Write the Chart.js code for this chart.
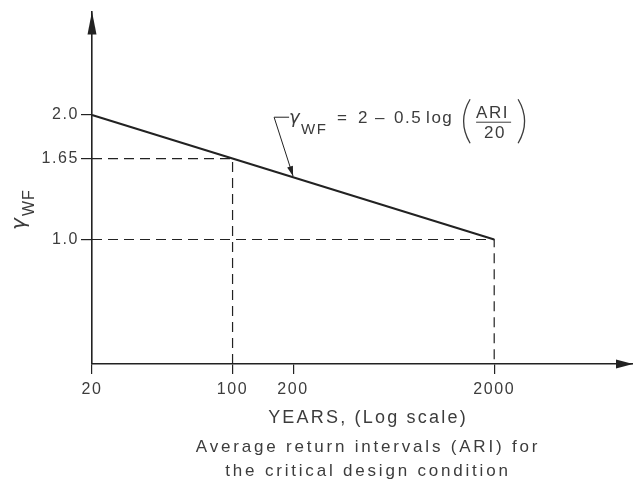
<!DOCTYPE html>
<html>
<head>
<meta charset="utf-8">
<script src="https://cdn.jsdelivr.net/npm/chart.js@4"></script>
<style>
  body { margin: 0; background: #fff; }
  #wrap { width: 633px; height: 479px; }
</style>
</head>
<body>
<div id="wrap"><canvas id="chart"></canvas></div>
<script>
// ---- data ----
const ariEnds = [20, 2000];          // years
const gammaEnds = [2.0, 1.0];        // gamma_WF = 2 - 0.5 log(ARI/20)
const guide165X = [20, 100, 100];
const guide165Y = [1.65, 1.65, 0];
const guide10X = [20, 2000, 2000];
const guide10Y = [1.0, 1.0, 0];
const xTicks = [20, 100, 200, 2000];
const yTicks = [1.0, 1.65, 2.0];
const yTickLabels = ['1.0', '1.65', '2.0'];
const calloutAt = [200, 1.5];        // where the formula arrow points
const xMin = 20, xMax = 9800;
const yMin = 0, yMax = 2.83;

const FONT = "'Liberation Sans', Arial, sans-serif";
const GREEK = "'DejaVu Sans', sans-serif";
const INK = '#222';
const TEXT = '#3c3c3c';

function toPoints(xs, ys) {
  return xs.map((x, i) => ({ x: x, y: ys[i] }));
}

// arrows, callout, formula and captions
const decor = {
  id: 'decor',
  beforeDraw(chart) {
    chart.ctx.letterSpacing = '1.6px';
  },
  afterDraw(chart) {
    const ctx = chart.ctx;
    const a = chart.chartArea;
    const xs = chart.scales.x, ys = chart.scales.y;
    ctx.save();
    ctx.fillStyle = INK;
    ctx.strokeStyle = INK;

    // axis arrowheads
    ctx.beginPath();
    ctx.moveTo(a.left, a.top);
    ctx.lineTo(a.left - 4.5, a.top + 23);
    ctx.lineTo(a.left + 4.5, a.top + 23);
    ctx.closePath();
    ctx.fill();
    ctx.beginPath();
    ctx.moveTo(a.right, a.bottom);
    ctx.lineTo(a.right - 17, a.bottom - 4.5);
    ctx.lineTo(a.right - 17, a.bottom + 4.5);
    ctx.closePath();
    ctx.fill();

    // callout leader
    const tx = xs.getPixelForValue(calloutAt[0]);
    const ty = ys.getPixelForValue(calloutAt[1]) - 1;
    const kx = tx - 19, ky = ty - 59;
    ctx.lineWidth = 1;
    ctx.beginPath();
    ctx.moveTo(kx + 15, ky);
    ctx.lineTo(kx, ky);
    ctx.lineTo(tx, ty);
    ctx.stroke();
    const dx = tx - kx, dy = ty - ky, len = Math.hypot(dx, dy);
    const ux = dx / len, uy = dy / len;
    ctx.beginPath();
    ctx.moveTo(tx, ty);
    ctx.lineTo(tx - ux * 10 - uy * 3, ty - uy * 10 + ux * 3);
    ctx.lineTo(tx - ux * 10 + uy * 3, ty - uy * 10 - ux * 3);
    ctx.closePath();
    ctx.fill();

    // formula
    ctx.fillStyle = TEXT;
    ctx.textAlign = 'left';
    ctx.textBaseline = 'alphabetic';
    const fx = kx + 15, fy = ky + 5;
    ctx.letterSpacing = '0px';
    ctx.font = 'italic 18px ' + GREEK;
    ctx.fillText('\u03b3', fx, fy + 1);
    ctx.font = '15px ' + FONT;
    ctx.letterSpacing = '1.5px';
    ctx.fillText('WF', fx + 12, fy + 12);
    ctx.font = '17px ' + FONT;
    ctx.fillText('=', fx + 48, fy + 1);
    ctx.fillText('2', fx + 69, fy + 1);
    ctx.fillText('\u2013', fx + 86, fy + 1);
    ctx.fillText('0.5', fx + 105, fy + 1);
    ctx.fillText('log', fx + 137, fy + 1);
    ctx.fillText('ARI', fx + 187, fy - 4);
    ctx.fillText('20', fx + 195, fy + 16);
    ctx.lineWidth = 1;
    ctx.strokeStyle = TEXT;
    ctx.beginPath();
    ctx.moveTo(fx + 187, fy);
    ctx.lineTo(fx + 222, fy);
    ctx.stroke();
    ctx.lineWidth = 1.3;
    ctx.beginPath();
    ctx.moveTo(fx + 181, fy - 23);
    ctx.quadraticCurveTo(fx + 168, fy - 1, fx + 181, fy + 21);
    ctx.moveTo(fx + 229, fy - 23);
    ctx.quadraticCurveTo(fx + 242, fy - 1, fx + 229, fy + 21);
    ctx.stroke();

    // y axis title, rotated
    ctx.save();
    ctx.translate(25, 230);
    ctx.rotate(-Math.PI / 2);
    ctx.letterSpacing = '0px';
    ctx.font = 'italic 20px ' + GREEK;
    ctx.fillText('\u03b3', 0, 0);
    ctx.font = '16px ' + FONT;
    ctx.letterSpacing = '1px';
    ctx.fillText('WF', 14, 9);
    ctx.restore();

    // captions under the x axis
    ctx.textAlign = 'center';
    ctx.font = '18px ' + FONT;
    ctx.letterSpacing = '2.2px';
    ctx.fillText('YEARS, (Log scale)', 368, 423);
    ctx.font = '17px ' + FONT;
    ctx.letterSpacing = '2.8px';
    ctx.fillText('Average return intervals (ARI) for', 368, 452);
    ctx.fillText('the critical design condition', 368, 476);
    ctx.restore();
  }
};

const lineStyle = { borderColor: INK, pointRadius: 0, showLine: true, fill: false, clip: false, tension: 0 };

new Chart(document.getElementById('chart'), {
  type: 'scatter',
  data: {
    datasets: [
      Object.assign({ label: 'gamma', data: toPoints(ariEnds, gammaEnds), borderWidth: 2 }, lineStyle),
      Object.assign({ label: 'g165', data: toPoints(guide165X, guide165Y), borderWidth: 1.2, borderDash: [10, 6] }, lineStyle),
      Object.assign({ label: 'g10', data: toPoints(guide10X, guide10Y), borderWidth: 1.2, borderDash: [10, 6] }, lineStyle)
    ]
  },
  options: {
    responsive: true,
    maintainAspectRatio: false,
    animation: false,
    layout: { padding: { top: 10, right: 0, bottom: 0, left: 0 } },
    plugins: { legend: { display: false }, tooltip: { enabled: false } },
    scales: {
      x: {
        type: 'logarithmic',
        min: xMin,
        max: xMax,
        afterBuildTicks: s => { s.ticks = xTicks.map(v => ({ value: v })); },
        afterFit: s => { s.height = 115; },
        border: { display: true, color: INK, width: 1.6 },
        grid: { display: true, drawOnChartArea: false, drawTicks: true, tickLength: 10, color: INK, lineWidth: 1.2 },
        ticks: {
          color: TEXT, font: { family: FONT, size: 16 }, padding: 6,
          maxRotation: 0, autoSkip: false,
          callback: v => String(v)
        }
      },
      y: {
        min: yMin,
        max: yMax,
        afterBuildTicks: s => { s.ticks = yTicks.map(v => ({ value: v })); },
        afterFit: s => { s.width = 92; },
        border: { display: true, color: INK, width: 1.6 },
        grid: { display: true, drawOnChartArea: false, drawTicks: true, tickLength: 11, color: INK, lineWidth: 1.2 },
        ticks: {
          color: TEXT, font: { family: FONT, size: 16 }, padding: 2,
          callback: (v, i) => yTickLabels[i]
        }
      }
    }
  },
  plugins: [decor]
});
</script>
</body>
</html>
